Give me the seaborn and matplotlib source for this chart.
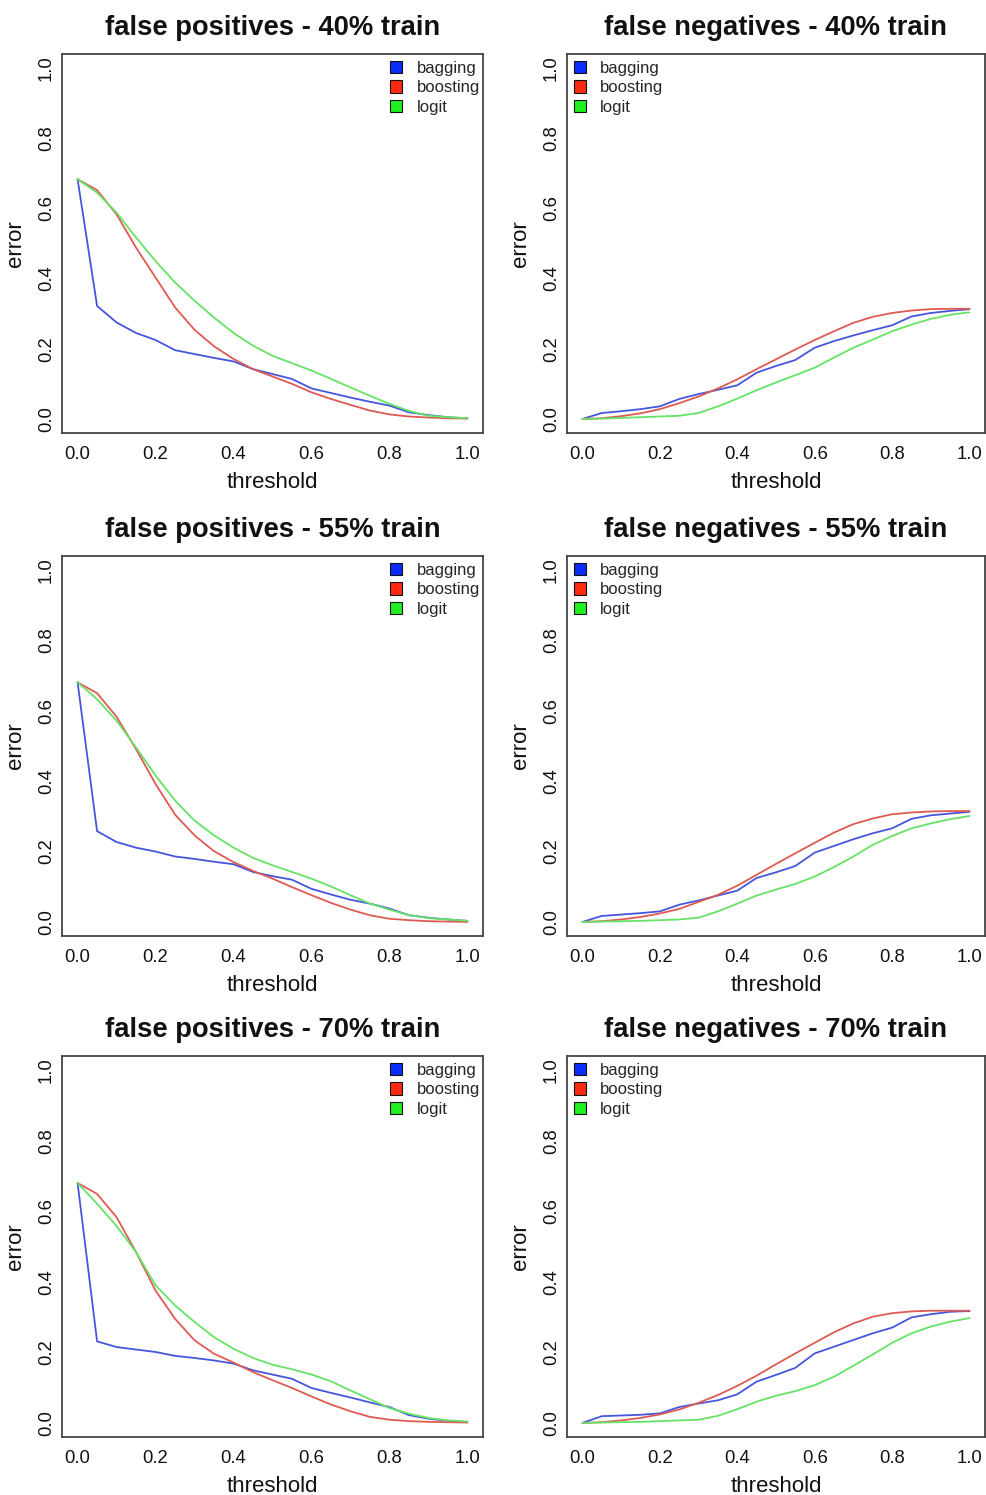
import matplotlib
matplotlib.use("Agg")
import matplotlib.pyplot as plt
from matplotlib.patches import Patch
import pandas as pd
import seaborn as sns

# threshold grid shared by every panel
threshold = [0.00, 0.05, 0.10, 0.15, 0.20, 0.25, 0.30, 0.35, 0.40, 0.45, 0.50,
             0.55, 0.60, 0.65, 0.70, 0.75, 0.80, 0.85, 0.90, 0.95, 1.00]

models = ["bagging", "boosting", "logit"]

# false positives, 40% train
fp40_bagging = [0.683, 0.322, 0.275, 0.245, 0.225, 0.196, 0.185, 0.174, 0.164, 0.142, 0.128,
                0.114, 0.087, 0.074, 0.061, 0.049, 0.038, 0.019, 0.011, 0.005, 0.002]
fp40_boosting = [0.683, 0.652, 0.583, 0.488, 0.403, 0.318, 0.254, 0.207, 0.171, 0.142, 0.121,
                 0.100, 0.076, 0.057, 0.040, 0.024, 0.013, 0.007, 0.004, 0.002, 0.001]
fp40_logit = [0.683, 0.645, 0.588, 0.517, 0.450, 0.389, 0.337, 0.289, 0.245, 0.209, 0.180,
              0.159, 0.138, 0.114, 0.090, 0.066, 0.043, 0.023, 0.009, 0.005, 0.002]

# false negatives, 40% train
fn40_bagging = [0.000, 0.017, 0.022, 0.028, 0.036, 0.057, 0.071, 0.083, 0.096, 0.132, 0.151,
                0.168, 0.203, 0.222, 0.238, 0.253, 0.267, 0.292, 0.302, 0.308, 0.313]
fn40_boosting = [0.000, 0.002, 0.008, 0.016, 0.028, 0.045, 0.064, 0.087, 0.113, 0.142, 0.170,
                 0.198, 0.225, 0.250, 0.274, 0.291, 0.302, 0.309, 0.313, 0.314, 0.314]
fn40_logit = [0.000, 0.001, 0.003, 0.005, 0.007, 0.009, 0.017, 0.036, 0.058, 0.082, 0.104,
              0.125, 0.146, 0.175, 0.203, 0.226, 0.250, 0.269, 0.285, 0.297, 0.304]

# false positives, 55% train
fp55_bagging = [0.681, 0.258, 0.227, 0.211, 0.200, 0.186, 0.179, 0.171, 0.164, 0.142, 0.130,
                0.120, 0.094, 0.078, 0.063, 0.052, 0.038, 0.019, 0.012, 0.007, 0.003]
fp55_boosting = [0.681, 0.650, 0.583, 0.491, 0.392, 0.305, 0.246, 0.201, 0.170, 0.145, 0.123,
                 0.099, 0.076, 0.054, 0.035, 0.019, 0.009, 0.005, 0.002, 0.001, 0.000]
fp55_logit = [0.681, 0.633, 0.572, 0.496, 0.416, 0.345, 0.288, 0.246, 0.211, 0.182, 0.161,
              0.142, 0.123, 0.101, 0.076, 0.052, 0.035, 0.019, 0.011, 0.007, 0.003]

# false negatives, 55% train
fn55_bagging = [0.000, 0.017, 0.021, 0.025, 0.030, 0.049, 0.061, 0.075, 0.089, 0.125, 0.141,
                0.159, 0.197, 0.216, 0.235, 0.252, 0.266, 0.293, 0.303, 0.308, 0.313]
fn55_boosting = [0.000, 0.002, 0.007, 0.014, 0.024, 0.037, 0.057, 0.077, 0.103, 0.134, 0.165,
                 0.195, 0.225, 0.254, 0.278, 0.294, 0.306, 0.311, 0.314, 0.315, 0.315]
fn55_logit = [0.000, 0.001, 0.002, 0.003, 0.005, 0.007, 0.012, 0.030, 0.052, 0.075, 0.092,
              0.108, 0.129, 0.156, 0.186, 0.219, 0.244, 0.266, 0.280, 0.292, 0.301]

# false positives, 70% train
fp70_bagging = [0.680, 0.231, 0.215, 0.208, 0.201, 0.190, 0.184, 0.177, 0.168, 0.149, 0.137,
                0.125, 0.099, 0.085, 0.072, 0.058, 0.045, 0.022, 0.012, 0.006, 0.002]
fp70_boosting = [0.680, 0.649, 0.583, 0.484, 0.375, 0.295, 0.234, 0.196, 0.171, 0.144, 0.121,
                 0.099, 0.075, 0.052, 0.033, 0.017, 0.009, 0.005, 0.003, 0.002, 0.001]
fp70_logit = [0.680, 0.621, 0.558, 0.484, 0.390, 0.333, 0.286, 0.243, 0.210, 0.184, 0.165,
              0.152, 0.137, 0.118, 0.092, 0.067, 0.042, 0.026, 0.014, 0.007, 0.004]

# false negatives, 70% train
fn70_bagging = [0.000, 0.019, 0.021, 0.023, 0.027, 0.045, 0.055, 0.064, 0.081, 0.117, 0.136,
                0.156, 0.197, 0.216, 0.235, 0.254, 0.270, 0.299, 0.308, 0.315, 0.317]
fn70_boosting = [0.000, 0.002, 0.007, 0.014, 0.024, 0.038, 0.057, 0.079, 0.105, 0.134, 0.166,
                 0.197, 0.227, 0.257, 0.282, 0.301, 0.311, 0.316, 0.318, 0.318, 0.318]
fn70_logit = [0.000, 0.001, 0.002, 0.003, 0.005, 0.007, 0.009, 0.020, 0.039, 0.060, 0.077,
              0.090, 0.107, 0.131, 0.162, 0.194, 0.227, 0.254, 0.273, 0.287, 0.297]

titles = ["false positives - 40% train", "false negatives - 40% train",
          "false positives - 55% train", "false negatives - 55% train",
          "false positives - 70% train", "false negatives - 70% train"]

panel_series = [
    (fp40_bagging, fp40_boosting, fp40_logit),
    (fn40_bagging, fn40_boosting, fn40_logit),
    (fp55_bagging, fp55_boosting, fp55_logit),
    (fn55_bagging, fn55_boosting, fn55_logit),
    (fp70_bagging, fp70_boosting, fp70_logit),
    (fn70_bagging, fn70_boosting, fn70_logit),
]

line_colors = {"bagging": "#4656dc", "boosting": "#de5a52", "logit": "#66e266"}
key_colors = {"bagging": "#0a2cff", "boosting": "#ff2a10", "logit": "#20f020"}

sns.set_style("white")
plt.rcParams["font.family"] = ["Liberation Sans", "DejaVu Sans"]

fig = plt.figure(figsize=(9.87, 14.95), dpi=100)
W, H = 987.0, 1495.0

# axes boxes in pixels: (left, right) per column, (top, bottom) per row
col_x = [(62, 483), (567, 985)]
row_y = [(54, 433), (556, 936), (1056, 1437)]

ticks = [0.0, 0.2, 0.4, 0.6, 0.8, 1.0]
tick_labels = ["0.0", "0.2", "0.4", "0.6", "0.8", "1.0"]

for k, (title, series) in enumerate(zip(titles, panel_series)):
    r, c = divmod(k, 2)
    x0, x1 = col_x[c]
    y0, y1 = row_y[r]
    ax = fig.add_axes([x0 / W, 1 - y1 / H, (x1 - x0) / W, (y1 - y0) / H])

    df = pd.DataFrame({
        "threshold": threshold * 3,
        "error": list(series[0]) + list(series[1]) + list(series[2]),
        "model": [m for m in models for _ in threshold],
    })
    sns.lineplot(data=df, x="threshold", y="error", hue="model",
                 palette=line_colors, hue_order=models, linewidth=1.3,
                 legend=False, ax=ax)

    ax.set_xlim(-0.04, 1.04)
    ax.set_ylim(-0.04, 1.04)
    ax.set_xticks(ticks)
    ax.set_xticklabels(tick_labels)
    ax.set_yticks(ticks)
    ax.set_yticklabels(tick_labels, rotation=90, va="center")
    ax.tick_params(axis="both", direction="out", length=6, width=1.0,
                   labelsize=13.3, colors="#333333", labelcolor="#111111")
    ax.tick_params(axis="x", pad=3.5)
    ax.tick_params(axis="y", pad=-1.0)
    for sp in ax.spines.values():
        sp.set_visible(True)
        sp.set_color("#444444")
        sp.set_linewidth(1.3)

    ax.set_title(title, fontsize=19.7, fontweight="bold", pad=13.5, color="#111111")
    ax.set_xlabel("threshold", fontsize=16, labelpad=6.5, color="#111111")
    ax.set_ylabel("error", fontsize=16, labelpad=9, color="#111111")

    handles = [Patch(facecolor=key_colors[m], edgecolor="#111111", linewidth=0.8, label=m)
               for m in models]
    if c == 0:
        leg_kw = dict(loc="upper right", bbox_to_anchor=(1.008, 1.0))
    else:
        leg_kw = dict(loc="upper left", bbox_to_anchor=(0.0, 1.0))
    ax.legend(handles=handles, frameon=False, fontsize=12,
              handlelength=0.75, handleheight=0.75, handletextpad=0.85,
              labelspacing=0.28, borderaxespad=0.1, borderpad=0.3, **leg_kw)

fig.savefig("out.png", dpi=100, facecolor="white")
